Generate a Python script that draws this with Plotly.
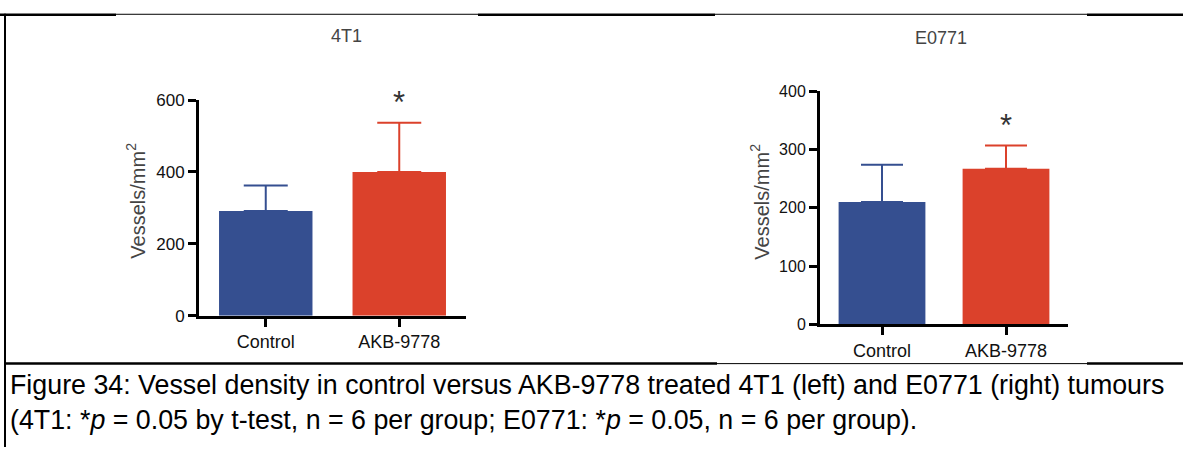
import plotly.graph_objects as go

W, H = 1183, 457

# Data
categories = ["Control", "AKB-9778"]
t41_means = [291, 400]
t41_sem = [71, 137]
e0771_means = [210, 267]
e0771_sem = [64, 40]
t41_ticks = [0, 200, 400, 600]
e0771_ticks = [0, 100, 200, 300, 400]

BLUE = "#354F90"
RED = "#DB412B"
SANS = "Liberation Sans, Arial, Helvetica"


def px(x):
    return x / W


def py(y):
    return 1 - y / H


fig = go.Figure()

panels = [
    ("x", "y", t41_means, t41_sem, 22),
    ("x2", "y2", e0771_means, e0771_sem, 21),
]
for xa, ya, means, sem, capw in panels:
    for cat, m, e, col in zip(categories, means, sem, [BLUE, RED]):
        fig.add_trace(go.Bar(
            x=[cat], y=[m], xaxis=xa, yaxis=ya, width=0.7,
            marker=dict(color=col, line=dict(width=0)),
            error_y=dict(type="data", array=[e], arrayminus=[0], symmetric=False,
                         color=col, thickness=2, width=capw),
            showlegend=False, hoverinfo="skip",
        ))

axis_common = dict(
    showline=True, linecolor="black", linewidth=3, ticks="outside",
    ticklen=8, tickwidth=3, tickcolor="black", showgrid=False, zeroline=False,
    fixedrange=True,
)

fig.update_layout(
    width=W, height=H, margin=dict(l=0, r=0, t=0, b=0),
    paper_bgcolor="white", plot_bgcolor="white", bargap=0.3,
    xaxis=dict(domain=[px(199), px(466)], range=[-0.5, 1.5], anchor="y",
               tickfont=dict(family=SANS, size=18, color="#111"), **axis_common),
    yaxis=dict(domain=[py(320), py(95)], range=[0, 600], anchor="x",
               tickvals=t41_ticks, tickfont=dict(family=SANS, size=17, color="#111"),
               **axis_common),
    xaxis2=dict(domain=[px(820), px(1068)], range=[-0.5, 1.5], anchor="y2",
                tickfont=dict(family=SANS, size=18, color="#111"), **axis_common),
    yaxis2=dict(domain=[py(329), py(86)], range=[0, 400], anchor="x2",
                tickvals=e0771_ticks, tickfont=dict(family=SANS, size=16, color="#111"),
                **axis_common),
)


def note(text, x, y, size, color, xanchor="center", angle=0, **kw):
    return dict(text=text, x=px(x), y=py(y), xref="paper", yref="paper",
                xanchor=xanchor, yanchor="middle", showarrow=False, textangle=angle,
                font=dict(family=SANS, size=size, color=color), **kw)


caption = ("Figure 34: Vessel density in control versus AKB-9778 treated 4T1 (left) and E0771 (right) tumours"
           "<br>(4T1: *<i>p</i> = 0.05 by t-test, n = 6 per group; E0771: *<i>p</i> = 0.05, n = 6 per group).")

annotations = [
    # Panel titles
    note("4T1", 346, 28, 18, "#444"),
    note("E0771", 941, 30, 18, "#444"),
    # Y-axis titles
    note("Vessels/mm<sup>2</sup>", 136, 200, 20, "#444", angle=-90),
    note("Vessels/mm<sup>2</sup>", 760, 201, 20, "#444", angle=-90),
    # Caption
    note(caption, 8, 411, 26.8, "black", xanchor="left", align="left"),
]
# Significance stars above the treated bars
for xa, ya, means, sem in [("x", "y", t41_means, t41_sem), ("x2", "y2", e0771_means, e0771_sem)]:
    annotations.append(dict(text="*", x=categories[1], y=means[1] + sem[1], xref=xa, yref=ya,
                            showarrow=False, xanchor="center", yanchor="middle", yshift=20,
                            font=dict(family=SANS, size=31, color="#333")))
fig.update_layout(annotations=annotations)

# Table-style frame lines
shapes = []


def hline(x0, x1, y, w):
    shapes.append(dict(type="line", xref="paper", yref="paper",
                       x0=px(x0), x1=px(x1), y0=py(y), y1=py(y),
                       line=dict(color="black", width=w)))


hline(0, 116, 6, 2.5)
hline(116, 478, 5.5, 1)
hline(478, 715, 6, 2.5)
hline(715, 1087, 5.5, 1)
hline(1087, 1183, 6, 2.5)
hline(4, 717, 370, 2.5)
hline(717, 1087, 370, 1)
hline(1087, 1183, 370, 2.5)
shapes.append(dict(type="line", xref="paper", yref="paper", x0=px(5), x1=px(5),
                   y0=py(5), y1=py(457), line=dict(color="black", width=2)))
fig.update_layout(shapes=shapes)

fig.write_html("out.html")
